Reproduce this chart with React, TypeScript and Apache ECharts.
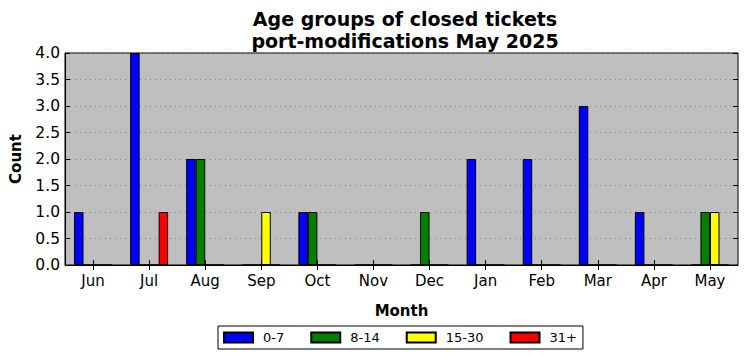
import React, { useEffect, useRef } from "react";
import * as echarts from "echarts";

const months = ["Jun", "Jul", "Aug", "Sep", "Oct", "Nov", "Dec", "Jan", "Feb", "Mar", "Apr", "May"];
const age0to7 = [1, 4, 2, 0, 1, 0, 0, 2, 2, 3, 1, 0];
const age8to14 = [0, 0, 2, 0, 1, 0, 1, 0, 0, 0, 0, 1];
const age15to30 = [0, 0, 0, 1, 0, 0, 0, 0, 0, 0, 0, 1];
const age31plus = [0, 1, 0, 0, 0, 0, 0, 0, 0, 0, 0, 0];
const seriesNames = ["0-7", "8-14", "15-30", "31+"];
const seriesColors = ["#0000ff", "#008000", "#ffff00", "#ff0000"];

const FONT = "DejaVu Sans";

export default function App() {
  const ref = useRef<HTMLDivElement>(null);
  useEffect(() => {
    if (!ref.current) return;
    const chart = echarts.init(ref.current, undefined, { renderer: "svg" });
    const data = [age0to7, age8to14, age15to30, age31plus];
    chart.setOption({
      animation: false,
      backgroundColor: "#ffffff",
      textStyle: { fontFamily: FONT },
      title: {
        text: "Age groups of closed tickets\nport-modifications May 2025",
        left: 400,
        top: 3,
        textAlign: "center",
        textStyle: { fontFamily: FONT, fontSize: 19, fontWeight: "bold", color: "#000", lineHeight: 22 },
      },
      grid: {
        left: 62,
        right: 9,
        top: 53,
        bottom: 96,
        show: true,
        backgroundColor: "#bfbfbf",
        borderColor: "#000",
        borderWidth: 1,
      },
      legend: {
        data: seriesNames,
        left: 218,
        top: 326,
        padding: [5, 6, 5, 5],
        borderColor: "#000",
        borderWidth: 1,
        borderRadius: 0,
        icon: "rect",
        itemWidth: 29,
        itemHeight: 10,
        itemGap: 26,
        textStyle: { fontFamily: FONT, fontSize: 13, color: "#000", padding: [0, 0, 0, 5] },
      },
      xAxis: [
        {
          type: "category",
          data: months,
          name: "Month",
          nameLocation: "middle",
          nameGap: 38,
          nameTextStyle: { fontFamily: FONT, fontSize: 15, fontWeight: "bold", color: "#000" },
          axisLine: { show: true, lineStyle: { color: "#000" } },
          axisTick: { show: true, inside: true, alignWithLabel: true, length: 5, lineStyle: { color: "#000" } },
          axisLabel: { fontFamily: FONT, fontSize: 15, color: "#000", margin: 8 },
          splitLine: { show: false },
        },
        {
          type: "category",
          data: months,
          position: "top",
          axisLine: { show: false },
          axisTick: { show: true, inside: true, alignWithLabel: true, length: 5, lineStyle: { color: "#000" } },
          axisLabel: { show: false },
          splitLine: { show: false },
        },
      ],
      yAxis: [
        {
          type: "value",
          min: 0,
          max: 4,
          interval: 0.5,
          name: "Count",
          nameLocation: "middle",
          nameGap: 42,
          nameTextStyle: { fontFamily: FONT, fontSize: 15, fontWeight: "bold", color: "#000" },
          axisLine: { show: true, lineStyle: { color: "#000" } },
          axisTick: { show: true, inside: true, length: 5, lineStyle: { color: "#000" } },
          axisLabel: {
            fontFamily: FONT,
            fontSize: 15.5,
            color: "#000",
            margin: 5,
            formatter: (v: number) => v.toFixed(1),
          },
          splitLine: { show: true, lineStyle: { color: "#808080", type: [1, 4], width: 1 } },
        },
        {
          type: "value",
          min: 0,
          max: 4,
          interval: 0.5,
          position: "right",
          axisLine: { show: false },
          axisTick: { show: true, inside: true, length: 5, lineStyle: { color: "#000" } },
          axisLabel: { show: false },
          splitLine: { show: false },
        },
      ],
      series: seriesNames.map((name, i) => ({
        name,
        type: "bar",
        xAxisIndex: 0,
        yAxisIndex: 0,
        data: data[i],
        barGap: "0%",
        barWidth: 9.5,
        itemStyle: { color: seriesColors[i], borderColor: "#000", borderWidth: 1 },
        emphasis: { disabled: true },
      })),
    });
    return () => chart.dispose();
  }, []);
  return <div ref={ref} style={{ position: "fixed", left: 0, top: 0, width: 747, height: 361 }} />;
}
